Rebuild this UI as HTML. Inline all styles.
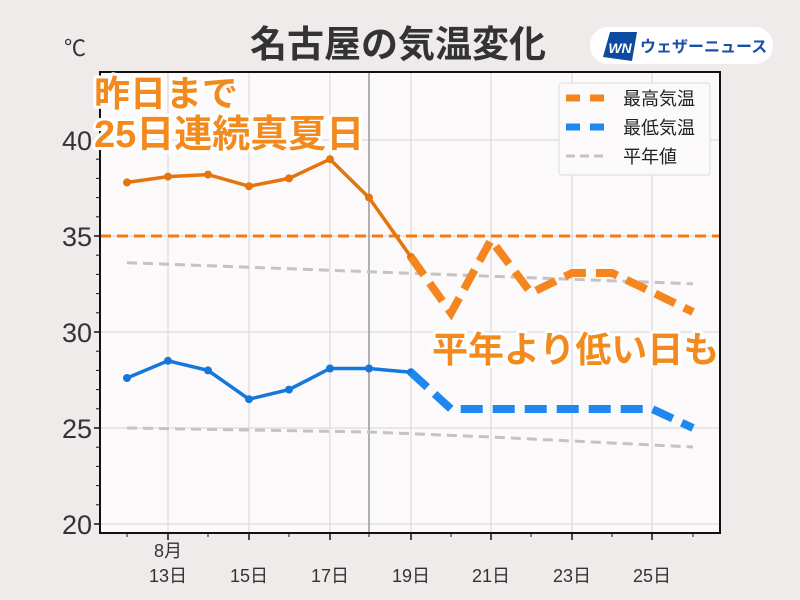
<!DOCTYPE html>
<html><head><meta charset="utf-8"><style>
body{margin:0;background:#eeebea;}
svg{display:block;font-family:"Liberation Sans","Noto Sans CJK JP",sans-serif;}
</style></head><body>
<svg width="800" height="600" viewBox="0 0 800 600">
<rect width="800" height="600" fill="#eeebea"/>
<text x="398" y="57" text-anchor="middle" font-size="37" font-weight="bold" fill="#333">名古屋の気温変化</text>
<rect x="590" y="27" width="183" height="37" rx="18" fill="#fff"/>
<polygon points="610,32 637,32 632,61 603,57" fill="#0d4aa0"/>
<text x="620" y="53" text-anchor="middle" font-size="14" font-weight="bold" font-style="italic" fill="#fff">WN</text>
<text x="640" y="52" font-size="16" font-weight="bold" fill="#1a4fa8">ウェザーニュース</text>
<rect x="100" y="72" width="620" height="461" fill="#fbf9fa"/>
<g stroke="#d4d2d3" stroke-width="1">
<line x1="100" y1="524" x2="720" y2="524"/><line x1="100" y1="428" x2="720" y2="428"/><line x1="100" y1="332" x2="720" y2="332"/><line x1="100" y1="236" x2="720" y2="236"/><line x1="100" y1="140" x2="720" y2="140"/>
<line x1="168" y1="72" x2="168" y2="533"/><line x1="249" y1="72" x2="249" y2="533"/><line x1="330" y1="72" x2="330" y2="533"/><line x1="411" y1="72" x2="411" y2="533"/><line x1="491" y1="72" x2="491" y2="533"/><line x1="572" y1="72" x2="572" y2="533"/><line x1="652" y1="72" x2="652" y2="533"/>
</g>
<line x1="369" y1="72" x2="369" y2="533" stroke="#999" stroke-width="1.5"/>
<g stroke="#c4c2c3" stroke-width="3" stroke-dasharray="10,6" fill="none">
<polyline points="127,262.7 693,283.8"/>
<polyline points="127,428 249,430 369,432 491,437 693,447"/>
</g>
<line x1="100" y1="236" x2="720" y2="236" stroke="#f57a12" stroke-width="3" stroke-dasharray="11,6"/>
<polyline points="127,182.4 168,176.6 208,174.6 249,186.2 289,178.4 330,159.2 369,197.6 411,257" fill="none" stroke="#e5740c" stroke-width="3.5"/>
<g fill="#e5740c"><circle cx="127" cy="182.4" r="4"/><circle cx="168" cy="176.6" r="4"/><circle cx="208" cy="174.6" r="4"/><circle cx="249" cy="186.2" r="4"/><circle cx="289" cy="178.4" r="4"/><circle cx="330" cy="159.2" r="4"/><circle cx="369" cy="197.6" r="4"/><circle cx="411" cy="257" r="4"/></g>
<polyline points="411,257 451,313 491,240 531,293 572,273 612,273 652,292 693,312" fill="none" stroke="#f5861f" stroke-width="8" stroke-dasharray="22,10"/>
<polyline points="127,378 168,360.8 208,370.4 249,399.2 289,389.6 330,368.5 369,368.5 411,372.3" fill="none" stroke="#1577db" stroke-width="3.5"/>
<g fill="#1577db"><circle cx="127" cy="378" r="4"/><circle cx="168" cy="360.8" r="4"/><circle cx="208" cy="370.4" r="4"/><circle cx="249" cy="399.2" r="4"/><circle cx="289" cy="389.6" r="4"/><circle cx="330" cy="368.5" r="4"/><circle cx="369" cy="368.5" r="4"/><circle cx="411" cy="372.3" r="4"/></g>
<polyline points="411,372.3 451,409 652,409 693,428" fill="none" stroke="#1e88f0" stroke-width="8" stroke-dasharray="22,10"/>
<rect x="100" y="72" width="620" height="461" fill="none" stroke="#111" stroke-width="2"/>
<g stroke="#111" stroke-width="1.5">
<line x1="94" y1="524" x2="100" y2="524"/><line x1="94" y1="428" x2="100" y2="428"/><line x1="94" y1="332" x2="100" y2="332"/><line x1="94" y1="236" x2="100" y2="236"/><line x1="94" y1="140" x2="100" y2="140"/>
<line x1="168" y1="533" x2="168" y2="540"/><line x1="249" y1="533" x2="249" y2="540"/><line x1="330" y1="533" x2="330" y2="540"/><line x1="411" y1="533" x2="411" y2="540"/><line x1="491" y1="533" x2="491" y2="540"/><line x1="572" y1="533" x2="572" y2="540"/><line x1="652" y1="533" x2="652" y2="540"/>
</g>
<g stroke="#111" stroke-width="1">
<line x1="96" y1="504.8" x2="100" y2="504.8"/><line x1="96" y1="485.6" x2="100" y2="485.6"/><line x1="96" y1="466.4" x2="100" y2="466.4"/><line x1="96" y1="447.2" x2="100" y2="447.2"/>
<line x1="96" y1="408.8" x2="100" y2="408.8"/><line x1="96" y1="389.6" x2="100" y2="389.6"/><line x1="96" y1="370.4" x2="100" y2="370.4"/><line x1="96" y1="351.2" x2="100" y2="351.2"/>
<line x1="96" y1="312.8" x2="100" y2="312.8"/><line x1="96" y1="293.6" x2="100" y2="293.6"/><line x1="96" y1="274.4" x2="100" y2="274.4"/><line x1="96" y1="255.2" x2="100" y2="255.2"/>
<line x1="96" y1="216.8" x2="100" y2="216.8"/><line x1="96" y1="197.6" x2="100" y2="197.6"/><line x1="96" y1="178.4" x2="100" y2="178.4"/><line x1="96" y1="159.2" x2="100" y2="159.2"/>
<line x1="96" y1="120.8" x2="100" y2="120.8"/><line x1="96" y1="101.6" x2="100" y2="101.6"/><line x1="96" y1="82.4" x2="100" y2="82.4"/>
<line x1="127" y1="533" x2="127" y2="537"/><line x1="208" y1="533" x2="208" y2="537"/><line x1="289" y1="533" x2="289" y2="537"/><line x1="369" y1="533" x2="369" y2="537"/><line x1="451" y1="533" x2="451" y2="537"/><line x1="531" y1="533" x2="531" y2="537"/><line x1="612" y1="533" x2="612" y2="537"/><line x1="693" y1="533" x2="693" y2="537"/>
</g>
<g font-size="27" fill="#333" text-anchor="end">
<text x="92" y="534">20</text><text x="92" y="438">25</text><text x="92" y="342">30</text><text x="92" y="246">35</text><text x="92" y="150">40</text>
</g>
<text x="64" y="56" font-size="22" fill="#333">℃</text>
<g font-size="18" fill="#333" text-anchor="middle">
<text x="168" y="557">8月</text>
<text x="168" y="582">13日</text><text x="249" y="582">15日</text><text x="330" y="582">17日</text><text x="411" y="582">19日</text><text x="491" y="582">21日</text><text x="572" y="582">23日</text><text x="652" y="582">25日</text>
</g>
<rect x="559" y="83" width="151" height="92" rx="3" fill="#fbf9fa" stroke="#ddd"/>
<line x1="566" y1="98" x2="606" y2="98" stroke="#f5861f" stroke-width="7" stroke-dasharray="14,10"/>
<line x1="566" y1="127" x2="606" y2="127" stroke="#1e88f0" stroke-width="7" stroke-dasharray="14,10"/>
<line x1="566" y1="156" x2="606" y2="156" stroke="#c4c2c3" stroke-width="3" stroke-dasharray="9,5"/>
<g font-size="18" fill="#222"><text x="623" y="105">最高気温</text><text x="623" y="134">最低気温</text><text x="623" y="163">平年値</text></g>
<g font-weight="bold" fill="#f28a1e" stroke="#fff" stroke-width="6" paint-order="stroke" stroke-linejoin="round">
<text x="94" y="106" font-size="36">昨日まで</text>
<text x="94" y="147" font-size="38">25日連続真夏日</text>
<text x="432" y="362" font-size="36">平年より低い日も</text>
</g>
</svg>
</body></html>
